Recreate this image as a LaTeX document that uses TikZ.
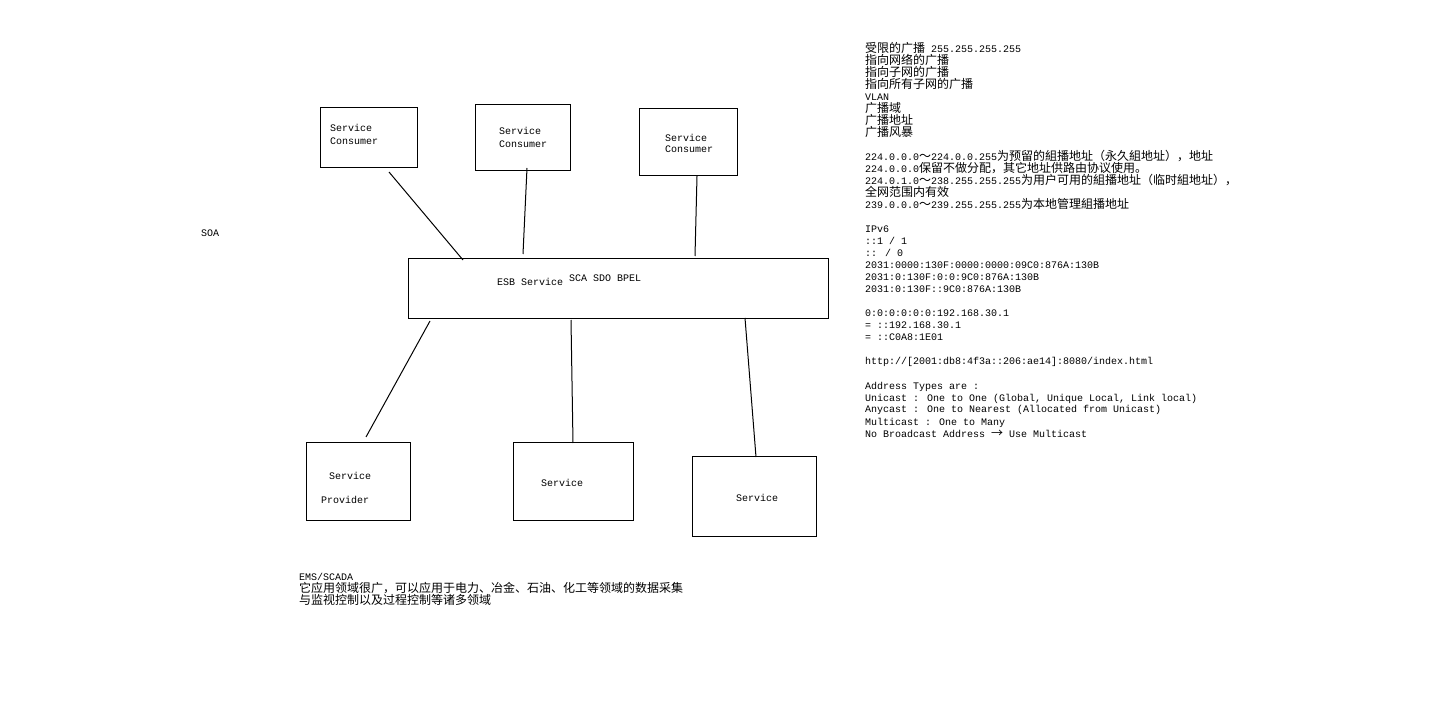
\documentclass[tikz,border=0pt]{standalone}
\usepackage{fontspec}
\setmainfont{Liberation Mono}
\newfontfamily\cjkfont{Noto Sans CJK SC}
\newcommand\zh[1]{{\cjkfont\fontsize{12}{12}\selectfont #1}}
\begin{document}
\begin{tikzpicture}[x=1pt,y=-1pt,
  txt/.style={anchor=base west,inner sep=0pt,font=\fontsize{10}{12}\selectfont},
  box/.style={draw,line width=1pt,inner sep=0pt,anchor=north west},
  link/.style={line width=1pt}]
\useasboundingbox[fill=white] (0,0) rectangle (1441,703);

% boxes
\node[box,minimum width=97pt,minimum height=60pt] (c1) at (320,107) {};
\node[box,minimum width=95pt,minimum height=66pt] (c2) at (475,104) {};
\node[box,minimum width=98pt,minimum height=67pt] (c3) at (639,108) {};
\node[box,minimum width=420pt,minimum height=60pt] (esb) at (408,258) {};
\node[box,minimum width=104pt,minimum height=78pt] (p1) at (306,442) {};
\node[box,minimum width=120pt,minimum height=78pt] (s2) at (513,442) {};
\node[box,minimum width=124pt,minimum height=80pt] (s3) at (692,456) {};

% box labels
\node[txt] (c1t1) at (330,132) {Service};
\node[txt] (c1t2) at (330,145) {Consumer};
\node[txt] (c2t1) at (499,135) {Service};
\node[txt] (c2t2) at (499,148) {Consumer};
\node[txt] (c3t1) at (665,142) {Service};
\node[txt] (c3t2) at (665,153) {Consumer};
\node[txt] (esbt1) at (497,286) {ESB Service};
\node[txt] (esbt2) at (569,282) {SCA SDO BPEL};
\node[txt] (p1t1) at (329,479) {Service};
\node[txt] (p1t2) at (321,503) {Provider};
\node[txt] (s2t) at (541,486) {Service};
\node[txt] (s3t) at (736,501) {Service};
\node[txt] (soa) at (201,237) {SOA};

% connector end points
\coordinate (c1a) at (389,172); \coordinate (e1) at (463,260);
\coordinate (c2a) at (527,168); \coordinate (e2) at (523,254);
\coordinate (c3a) at (697,176); \coordinate (e3) at (695,256);
\coordinate (e4) at (430,321);  \coordinate (p1a) at (366,437);
\coordinate (e5) at (571,320);  \coordinate (s2a) at (573,443);
\coordinate (e6) at (745,318);  \coordinate (s3a) at (756,457);
\draw[link] (c1a) -- (e1);
\draw[link] (c2a) -- (e2);
\draw[link] (c3a) -- (e3);
\draw[link] (e4) -- (p1a);
\draw[link] (e5) -- (s2a);
\draw[link] (e6) -- (s3a);

% right text
\node[txt] (r1) at (865,53) {\zh{受限的广播} 255.255.255.255};
\node[txt] (r2) at (865,65) {\zh{指向网络的广播}};
\node[txt] (r3) at (865,77) {\zh{指向子网的广播}};
\node[txt] (r4) at (865,89) {\zh{指向所有子网的广播}};
\node[txt] (r5) at (865,101) {VLAN};
\node[txt] (r6) at (865,113) {\zh{广播域}};
\node[txt] (r7) at (865,125) {\zh{广播地址}};
\node[txt] (r8) at (865,137) {\zh{广播风暴}};
\node[txt] (r9) at (865,161) {224.0.0.0\zh{～}224.0.0.255\zh{为预留的組播地址（永久組地址），地址}};
\node[txt] (r10) at (865,173) {224.0.0.0\zh{保留不做分配，其它地址供路由协议使用。}};
\node[txt] (r11) at (865,185) {224.0.1.0\zh{～}238.255.255.255\zh{为用户可用的組播地址（临时組地址），}};
\node[txt] (r12) at (865,197) {\zh{全网范围内有效}};
\node[txt] (r13) at (865,209) {239.0.0.0\zh{～}239.255.255.255\zh{为本地管理組播地址}};
\node[txt] (r14) at (865,233) {IPv6};
\node[txt] (r15) at (865,245) {::1 / 1};
\node[txt] (r16) at (865,257) {:: / 0};
\node[txt] (r17) at (865,269) {2031:0000:130F:0000:0000:09C0:876A:130B};
\node[txt] (r18) at (865,281) {2031:0:130F:0:0:9C0:876A:130B};
\node[txt] (r19) at (865,293) {2031:0:130F::9C0:876A:130B};
\node[txt] (r20) at (865,317) {0:0:0:0:0:0:192.168.30.1};
\node[txt] (r21) at (865,329) {= ::192.168.30.1};
\node[txt] (r22) at (865,341) {= ::C0A8:1E01};
\node[txt] (r23) at (865,365) {http://[2001:db8:4f3a::206:ae14]:8080/index.html};
\node[txt] (r24) at (865,389) {Address Types are :};
\node[txt] (r25) at (865,401) {Unicast : One to One (Global, Unique Local, Link local)};
\node[txt] (r26) at (865,413) {Anycast : One to Nearest (Allocated from Unicast)};
\node[txt] (r27) at (865,425) {Multicast : One to Many};
\node[txt] (r28) at (865,437) {No Broadcast Address \zh{→} Use Multicast};

% bottom text
\node[txt] (b1) at (299,580) {EMS/SCADA};
\node[txt] (b2) at (299,592) {\zh{它应用领域很广，可以应用于电力、冶金、石油、化工等领域的数据采集}};
\node[txt] (b3) at (299,604) {\zh{与监视控制以及过程控制等诸多领域}};
\end{tikzpicture}
\end{document}
